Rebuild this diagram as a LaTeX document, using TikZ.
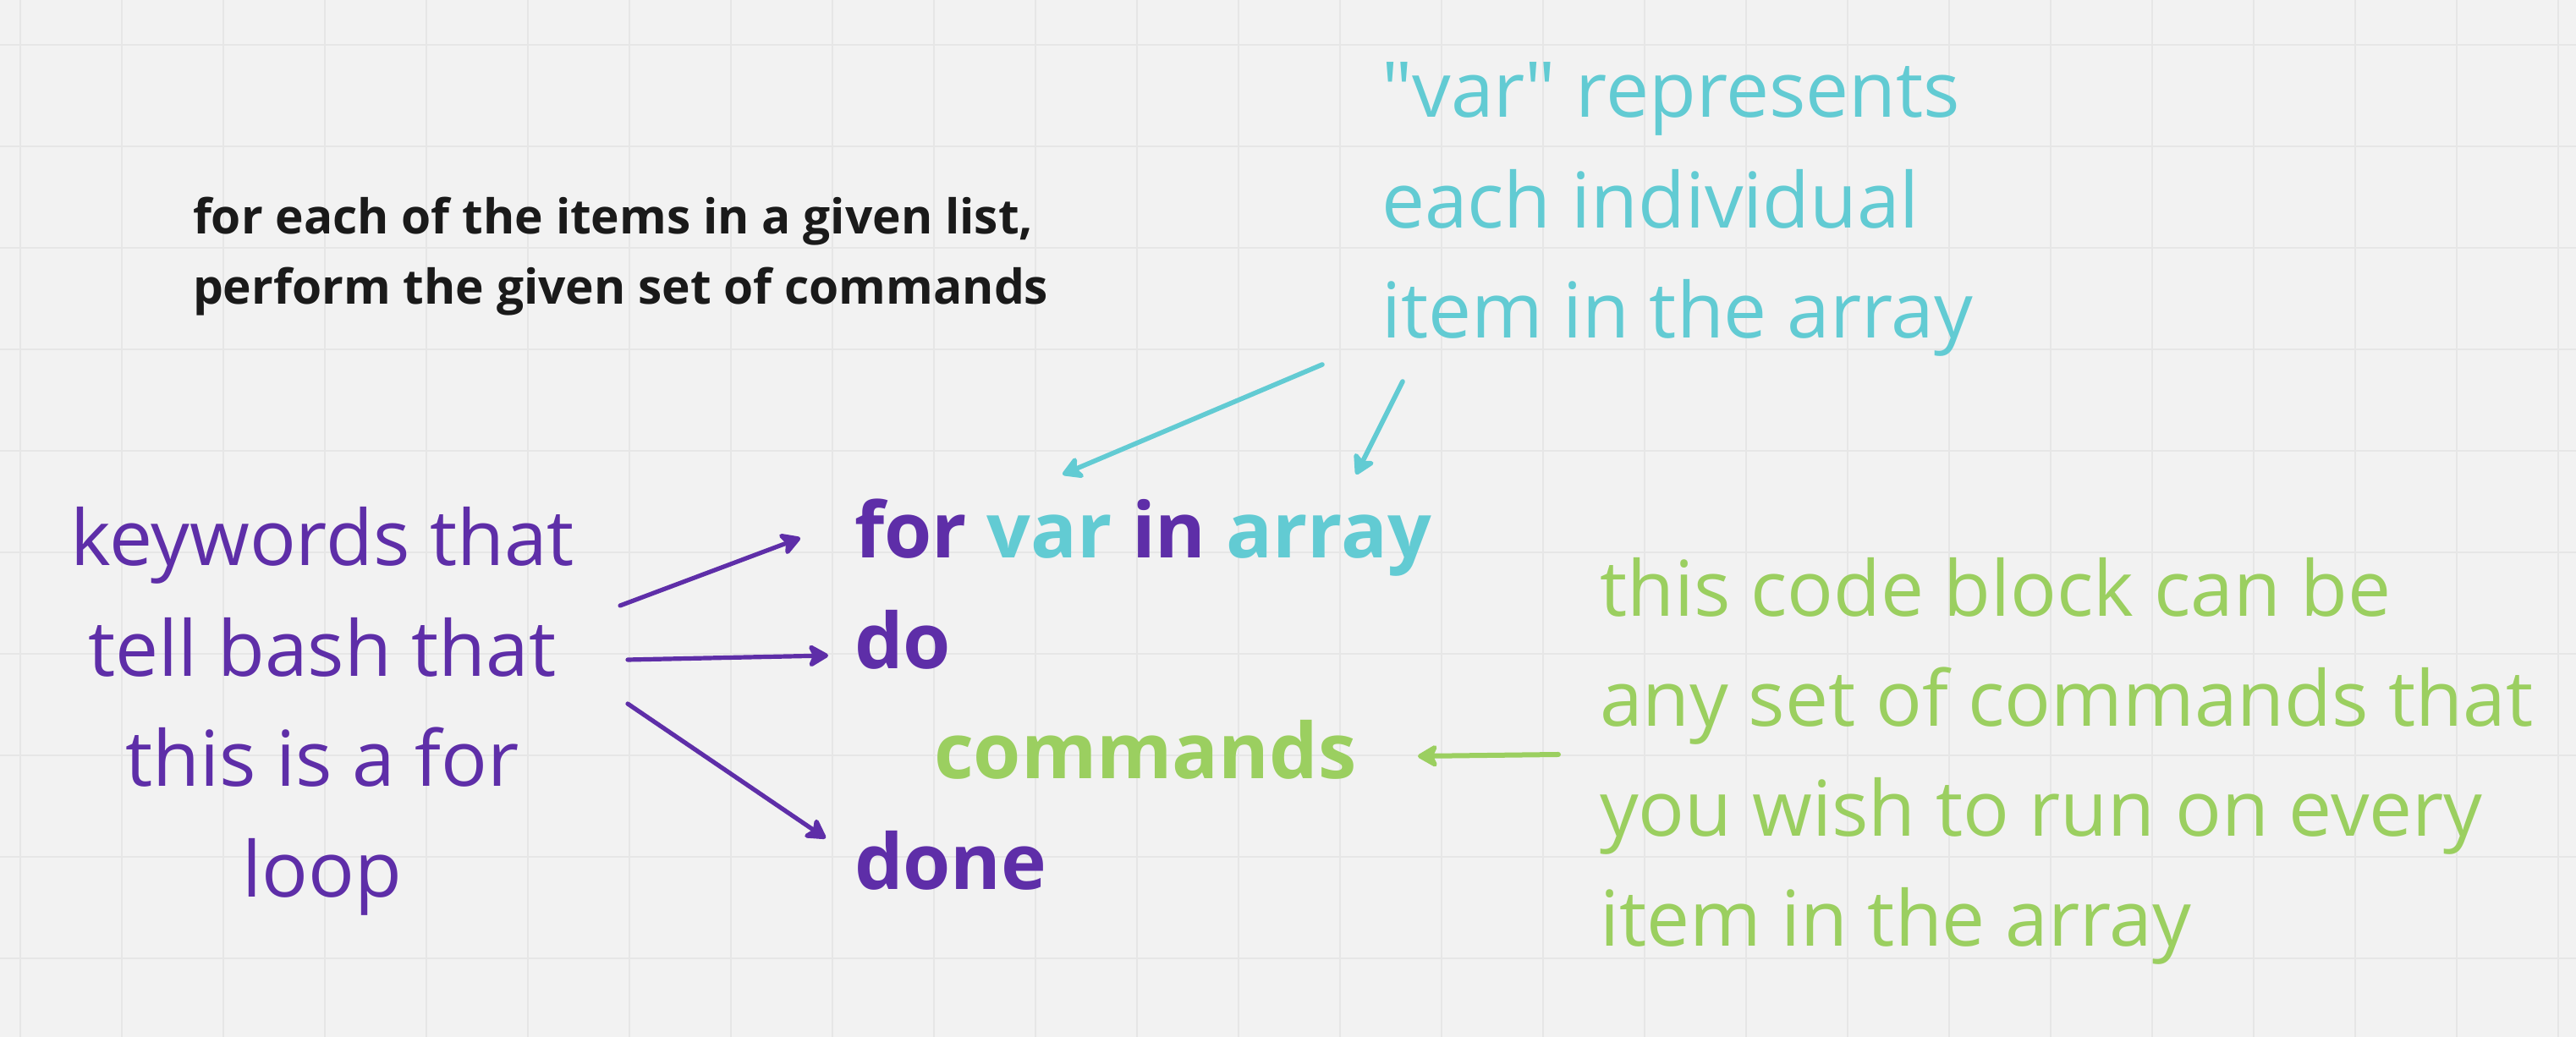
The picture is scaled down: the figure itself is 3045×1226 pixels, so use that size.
\documentclass[tikz,border=0pt]{standalone}
\usepackage{fontspec}
\setmainfont{Open Sans}
\usetikzlibrary{arrows.meta}
\definecolor{bgc}{HTML}{F2F2F2}
\definecolor{gridc}{HTML}{E6E6E6}
\definecolor{purp}{HTML}{5E2EA8}
\definecolor{cyanc}{HTML}{62CBD3}
\definecolor{greenc}{HTML}{9BCF60}
\definecolor{blackc}{HTML}{1A1A1A}
\begin{document}
\begin{tikzpicture}[x=0.25pt,y=-0.25pt,
  gridline/.style={gridc,line width=0.5pt},
  txt/.style={inner sep=0pt,outer sep=0pt},
  bodytxt/.style={txt,font=\fontsize{22.75pt}{30pt}\selectfont},
  codetxt/.style={txt,anchor=base west,font=\fontsize{22.75pt}{30pt}\selectfont\bfseries},
  captxt/.style={txt,anchor=base west,text=blackc,font=\fontsize{14.2pt}{18pt}\selectfont\bfseries},
  arr/.style={line width=1.3pt,line cap=round,-{Stealth[length=7pt,width=8pt,inset=1.8pt,round]}},
]
\fill[bgc] (0,0) rectangle (3045,1226);
\useasboundingbox (0,0) rectangle (3045,1226);
\foreach \i in {0,...,25} \draw[gridline] (24+120*\i,0) -- (24+120*\i,1226);
\foreach \j in {0,...,9} \draw[gridline] (0,53+120*\j) -- (3045,53+120*\j);

% caption
\node[captxt] (cap1) at (228,277) {for each of the items in a given list,};
\node[captxt] (cap2) at (228,360) {perform the given set of commands};

% cyan note
\node[bodytxt,anchor=base west,text=cyanc] (var1) at (1633,139) {\textquotedbl var\textquotedbl{} represents};
\node[bodytxt,anchor=base west,text=cyanc] (var2) at (1633,270) {each individual};
\node[bodytxt,anchor=base west,text=cyanc] (var3) at (1633,400) {item in the array};

% left purple note
\node[bodytxt,anchor=base,text=purp] (kw1) at (381,669) {keywords that};
\node[bodytxt,anchor=base,text=purp] (kw2) at (381,800) {tell bash that};
\node[bodytxt,anchor=base,text=purp] (kw3) at (381,930) {this is a for};
\node[bodytxt,anchor=base,text=purp] (kw4) at (381,1061) {loop};

% code
\node[codetxt] (forline) at (1010,660) {\textcolor{purp}{for} \textcolor{cyanc}{var} \textcolor{purp}{in} \textcolor{cyanc}{array}};
\node[codetxt,text=purp] (doline) at (1010,791) {do};
\node[codetxt,text=greenc] (cmdline) at (1104,921) {commands};
\node[codetxt,text=purp] (doneline) at (1010,1052) {done};

% green note
\node[bodytxt,anchor=base west,text=greenc] (cb1) at (1891,729) {this code block can be};
\node[bodytxt,anchor=base west,text=greenc] (cb2) at (1891,859) {any set of commands that};
\node[bodytxt,anchor=base west,text=greenc] (cb3) at (1891,989) {you wish to run on every};
\node[bodytxt,anchor=base west,text=greenc] (cb4) at (1891,1119) {item in the array};

% arrow end points
\coordinate (kwA) at (733,716);
\coordinate (kwB) at (742,780);
\coordinate (kwC) at (742,832);
\coordinate (forTip) at (946,636);
\coordinate (doTip) at (979,775);
\coordinate (doneTip) at (976,991);
\coordinate (varA) at (1563,431);
\coordinate (varB) at (1658,451);
\coordinate (varTip) at (1256,561);
\coordinate (arrTip) at (1603,561);
\coordinate (cbA) at (1842,892);
\coordinate (cmdTip) at (1676,894);

\draw[arr,purp] (kwA) -- (forTip);
\draw[arr,purp] (kwB) -- (doTip);
\draw[arr,purp] (kwC) -- (doneTip);
\draw[arr,cyanc,line width=1.4pt] (varA) -- (varTip);
\draw[arr,cyanc,line width=1.4pt] (varB) -- (arrTip);
\draw[arr,greenc,line width=1.5pt] (cbA) -- (cmdTip);
\end{tikzpicture}
\end{document}
